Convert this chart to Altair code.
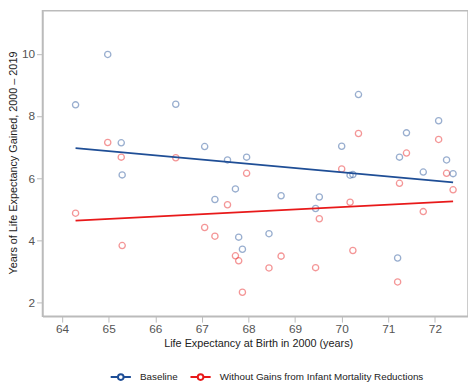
import altair as alt
import pandas as pd

# Life expectancy at birth in 2000 (years)
life_exp_2000 = [64.29, 64.98, 65.27, 65.29, 66.44, 67.06, 67.28, 67.55, 67.72,
                 67.79, 67.87, 67.96, 68.44, 68.70, 69.44, 69.52, 70.00, 70.18,
                 70.24, 70.36, 71.20, 71.24, 71.39, 71.75, 72.08, 72.25, 72.39]
# Years gained 2000-2019, baseline
baseline = [8.36, 9.98, 7.14, 6.11, 8.38, 7.02, 5.32, 6.59, 5.66,
            4.11, 3.72, 6.68, 4.22, 5.44, 5.03, 5.40, 7.03, 6.10,
            6.12, 8.69, 3.44, 6.68, 7.46, 6.20, 7.85, 6.59, 6.15]
# Years gained without gains from infant mortality reductions
without_imr = [4.88, 7.15, 6.68, 3.84, 6.66, 4.42, 4.14, 5.15, 3.51,
               3.35, 2.34, 6.16, 3.12, 3.50, 3.13, 4.70, 6.30, 5.23,
               3.68, 7.44, 2.67, 5.84, 6.81, 4.93, 7.25, 6.16, 5.63]

series_names = ["Baseline", "Without Gains from Infant Mortality Reductions"]
series_colors = ["#1f4e96", "#e8191a"]

rows = []
for x, b, w in zip(life_exp_2000, baseline, without_imr):
    rows.append({"x": x, "y": b, "series": series_names[0]})
    rows.append({"x": x, "y": w, "series": series_names[1]})
df = pd.DataFrame(rows)

xscale = alt.Scale(domain=[63.58, 72.71], nice=False, zero=False)
yscale = alt.Scale(domain=[1.57, 11.38], nice=False, zero=False)

legend_symbol = ("M-1,0H-0.32M0.32,0H1"
                 "M-0.28,0a0.28,0.28 0 1,0 0.56,0a0.28,0.28 0 1,0 -0.56,0")

color = alt.Color(
    "series:N",
    scale=alt.Scale(domain=series_names, range=series_colors),
    legend=alt.Legend(
        title=None, orient="none", direction="horizontal",
        legendX=68, legendY=360,
        symbolType=legend_symbol, symbolSize=420, symbolStrokeWidth=2,
        symbolOpacity=1, symbolFillColor="transparent",
        labelFont="Liberation Sans", labelFontSize=10, labelColor="#222",
        labelOffset=8, columnPadding=8, labelLimit=400,
    ),
)

xenc = alt.X("x:Q", scale=xscale,
             axis=alt.Axis(title="Life Expectancy at Birth in 2000 (years)",
                           values=list(range(64, 73)), grid=False,
                           titleX=219, titleY=28, titleAlign="center",
                           titleBaseline="middle"))
yenc = alt.Y("y:Q", scale=yscale,
             axis=alt.Axis(title="Years of Life Expectancy Gained, 2000 \u2013 2019",
                           values=[2, 4, 6, 8, 10], grid=False,
                           titleX=-29, titleY=154, titleAlign="center",
                           titleBaseline="middle", titleAngle=-90))

base = alt.Chart(df)

points = base.mark_point(filled=False, size=40, strokeWidth=1.3, opacity=0.45).encode(
    x=xenc, y=yenc, color=color
)

lines = base.transform_regression(
    "x", "y", groupby=["series"]
).mark_line(strokeWidth=1.8).encode(
    x=alt.X("x:Q", scale=xscale), y=alt.Y("y:Q", scale=yscale), color=color
)

chart = alt.layer(points, lines).properties(
    width=432, height=310,
    autosize=alt.AutoSizeParams(type="none"),
    padding={"left": 35, "top": 0, "right": 0, "bottom": 70},
).configure_view(
    stroke="#bbbbbb", strokeWidth=1.5
).configure_axis(
    domainColor="#bbbbbb", domainWidth=1.5, tickColor="#bbbbbb", tickSize=6,
    labelFont="Liberation Sans", labelFontSize=12, labelColor="#555555",
    labelPadding=2,
    titleFont="Liberation Sans", titleFontSize=11, titleFontWeight="normal",
    titleColor="#222222",
)

chart.save("out.html", embed_options={"renderer": "svg", "actions": False})
